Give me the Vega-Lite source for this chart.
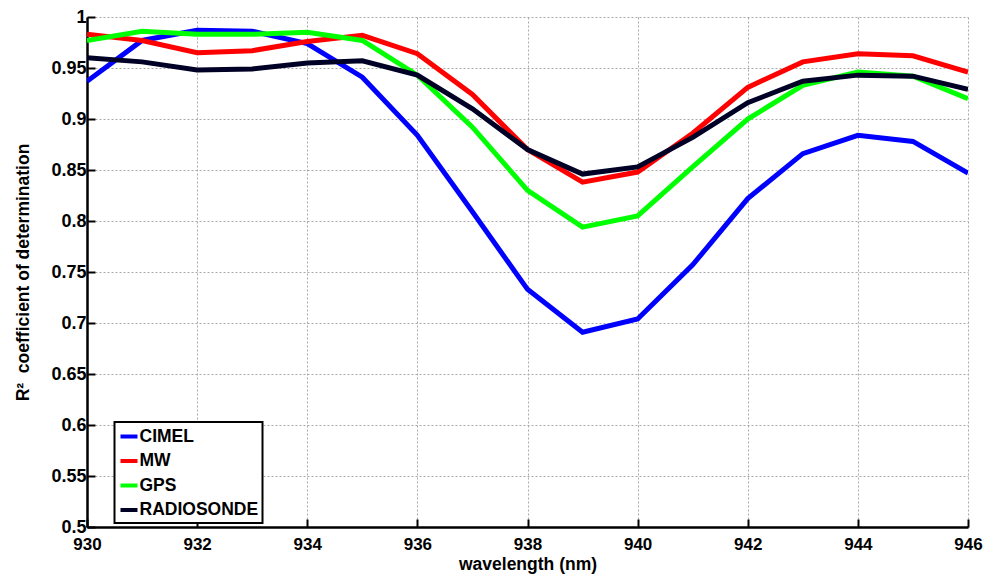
{
  "$schema": "https://vega.github.io/schema/vega-lite/v6.json",
  "width": 881,
  "height": 510,
  "autosize": "none",
  "padding": {"left": 87, "top": 17, "right": 17, "bottom": 47},
  "background": "white",
  "config": {
    "view": {"stroke": null},
    "font": "Liberation Sans",
    "axis": {
      "labelFont": "Liberation Sans",
      "labelFontWeight": "bold",
      "labelFontSize": 17,
      "labelColor": "black",
      "titleFont": "Liberation Sans",
      "titleFontWeight": "bold",
      "titleFontSize": 17.5,
      "titleColor": "black",
      "domainColor": "black",
      "domainWidth": 2.5,
      "tickColor": "black",
      "tickWidth": 2,
      "tickSize": -8,
      "gridColor": "#a8a8a8",
      "gridDash": [2, 2],
      "gridWidth": 1,
      "gridOpacity": 1
    },
    "legend": {
      "labelFont": "Liberation Sans",
      "labelFontWeight": "bold",
      "labelFontSize": 17.5,
      "labelColor": "black"
    }
  },
  "data": {
    "values": [
      {"wl": 930, "series": "CIMEL", "r2": 0.937},
      {"wl": 931, "series": "CIMEL", "r2": 0.977},
      {"wl": 932, "series": "CIMEL", "r2": 0.987},
      {"wl": 933, "series": "CIMEL", "r2": 0.986},
      {"wl": 934, "series": "CIMEL", "r2": 0.974},
      {"wl": 935, "series": "CIMEL", "r2": 0.941},
      {"wl": 936, "series": "CIMEL", "r2": 0.884},
      {"wl": 937, "series": "CIMEL", "r2": 0.809},
      {"wl": 938, "series": "CIMEL", "r2": 0.733},
      {"wl": 939, "series": "CIMEL", "r2": 0.691},
      {"wl": 940, "series": "CIMEL", "r2": 0.704},
      {"wl": 941, "series": "CIMEL", "r2": 0.757},
      {"wl": 942, "series": "CIMEL", "r2": 0.822},
      {"wl": 943, "series": "CIMEL", "r2": 0.866},
      {"wl": 944, "series": "CIMEL", "r2": 0.884},
      {"wl": 945, "series": "CIMEL", "r2": 0.878},
      {"wl": 946, "series": "CIMEL", "r2": 0.847},
      {"wl": 930, "series": "MW", "r2": 0.983},
      {"wl": 931, "series": "MW", "r2": 0.977},
      {"wl": 932, "series": "MW", "r2": 0.965},
      {"wl": 933, "series": "MW", "r2": 0.967},
      {"wl": 934, "series": "MW", "r2": 0.976},
      {"wl": 935, "series": "MW", "r2": 0.982},
      {"wl": 936, "series": "MW", "r2": 0.964},
      {"wl": 937, "series": "MW", "r2": 0.924},
      {"wl": 938, "series": "MW", "r2": 0.870},
      {"wl": 939, "series": "MW", "r2": 0.838},
      {"wl": 940, "series": "MW", "r2": 0.848},
      {"wl": 941, "series": "MW", "r2": 0.886},
      {"wl": 942, "series": "MW", "r2": 0.931},
      {"wl": 943, "series": "MW", "r2": 0.956},
      {"wl": 944, "series": "MW", "r2": 0.964},
      {"wl": 945, "series": "MW", "r2": 0.962},
      {"wl": 946, "series": "MW", "r2": 0.946},
      {"wl": 930, "series": "GPS", "r2": 0.977},
      {"wl": 931, "series": "GPS", "r2": 0.986},
      {"wl": 932, "series": "GPS", "r2": 0.983},
      {"wl": 933, "series": "GPS", "r2": 0.983},
      {"wl": 934, "series": "GPS", "r2": 0.985},
      {"wl": 935, "series": "GPS", "r2": 0.977},
      {"wl": 936, "series": "GPS", "r2": 0.943},
      {"wl": 937, "series": "GPS", "r2": 0.892},
      {"wl": 938, "series": "GPS", "r2": 0.830},
      {"wl": 939, "series": "GPS", "r2": 0.794},
      {"wl": 940, "series": "GPS", "r2": 0.805},
      {"wl": 941, "series": "GPS", "r2": 0.853},
      {"wl": 942, "series": "GPS", "r2": 0.900},
      {"wl": 943, "series": "GPS", "r2": 0.933},
      {"wl": 944, "series": "GPS", "r2": 0.946},
      {"wl": 945, "series": "GPS", "r2": 0.942},
      {"wl": 946, "series": "GPS", "r2": 0.920},
      {"wl": 930, "series": "RADIOSONDE", "r2": 0.960},
      {"wl": 931, "series": "RADIOSONDE", "r2": 0.956},
      {"wl": 932, "series": "RADIOSONDE", "r2": 0.948},
      {"wl": 933, "series": "RADIOSONDE", "r2": 0.949},
      {"wl": 934, "series": "RADIOSONDE", "r2": 0.955},
      {"wl": 935, "series": "RADIOSONDE", "r2": 0.957},
      {"wl": 936, "series": "RADIOSONDE", "r2": 0.943},
      {"wl": 937, "series": "RADIOSONDE", "r2": 0.910},
      {"wl": 938, "series": "RADIOSONDE", "r2": 0.870},
      {"wl": 939, "series": "RADIOSONDE", "r2": 0.846},
      {"wl": 940, "series": "RADIOSONDE", "r2": 0.853},
      {"wl": 941, "series": "RADIOSONDE", "r2": 0.882},
      {"wl": 942, "series": "RADIOSONDE", "r2": 0.916},
      {"wl": 943, "series": "RADIOSONDE", "r2": 0.937},
      {"wl": 944, "series": "RADIOSONDE", "r2": 0.943},
      {"wl": 945, "series": "RADIOSONDE", "r2": 0.942},
      {"wl": 946, "series": "RADIOSONDE", "r2": 0.929}
    ]
  },
  "mark": {"type": "line", "strokeWidth": 5, "strokeJoin": "miter", "clip": true},
  "encoding": {
    "x": {
      "field": "wl",
      "type": "quantitative",
      "scale": {"domain": [930, 946], "nice": false, "zero": false},
      "axis": {
        "title": "wavelength (nm)",
        "values": [930, 932, 934, 936, 938, 940, 942, 944, 946],
        "format": "d",
        "labelPadding": 17,
        "titlePadding": 3,
        "labelFlush": false
      }
    },
    "y": {
      "field": "r2",
      "type": "quantitative",
      "scale": {"domain": [0.5, 1], "nice": false, "zero": false},
      "axis": {
        "title": "R² \u00a0coefficient of determination",
        "values": [0.5, 0.55, 0.6, 0.65, 0.7, 0.75, 0.8, 0.85, 0.9, 0.95, 1],
        "format": ".2~f",
        "labelFontSize": 18,
        "labelPadding": 9,
        "titlePadding": 18,
        "labelFlush": false
      }
    },
    "color": {
      "field": "series",
      "type": "nominal",
      "scale": {
        "domain": ["CIMEL", "MW", "GPS", "RADIOSONDE"],
        "range": ["#0000ff", "#ff0000", "#00ff00", "#000026"]
      },
      "legend": {
        "title": null,
        "orient": "none",
        "legendX": 27.5,
        "legendY": 405,
        "symbolType": "stroke",
        "symbolSize": 289,
        "symbolStrokeWidth": 4,
        "labelOffset": 0,
        "rowPadding": 5.5,
        "padding": 4,
        "strokeColor": "black",
        "fillColor": "white",
        "encode": {"legend": {"update": {"strokeWidth": {"value": 2}}}}
      }
    }
  }
}
